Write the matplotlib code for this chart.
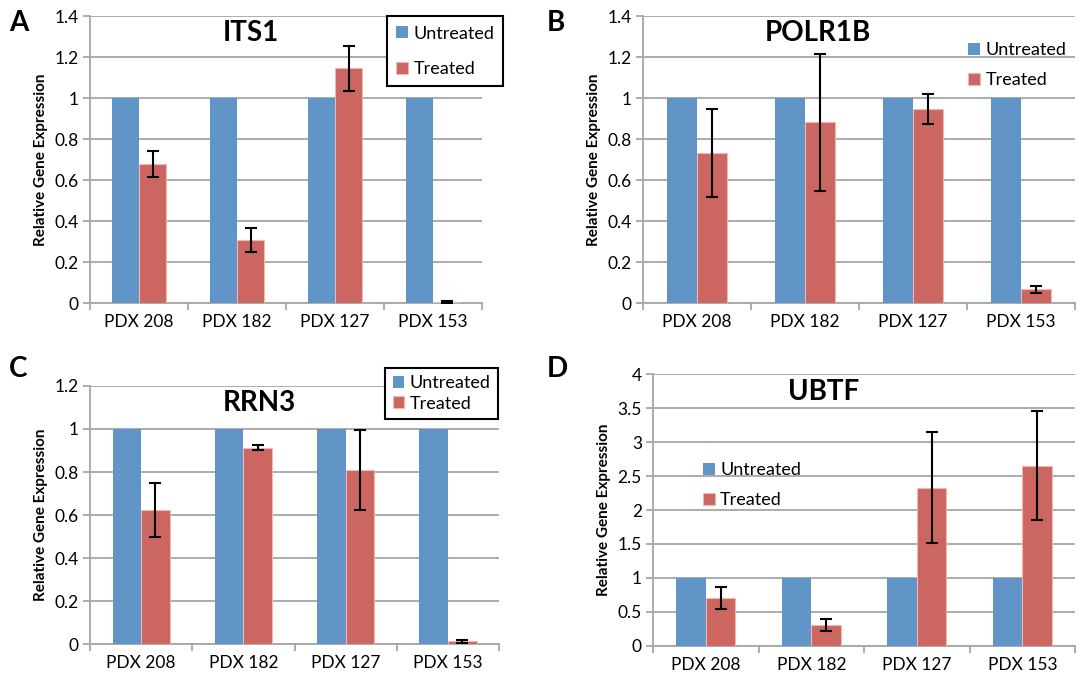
import matplotlib.pyplot as plt
import numpy as np

plt.rcParams['font.family'] = ['Lato', 'DejaVu Sans']

categories = ["PDX 208", "PDX 182", "PDX 127", "PDX 153"]
untreated = [1, 1, 1, 1]

its1 = [0.68, 0.307, 1.145, 0.005]
its1_err = [0.064, 0.058, 0.109, 0.003]

polr1b = [0.734, 0.881, 0.946, 0.067]
polr1b_err = [0.215, 0.336, 0.072, 0.018]

rrn3 = [0.625, 0.913, 0.808, 0.012]
rrn3_err = [0.125, 0.012, 0.186, 0.005]

ubtf = [0.70, 0.31, 2.33, 2.65]
ubtf_err = [0.163, 0.088, 0.82, 0.80]

BLUE = "#6195C8"
RED = "#CC6660"
GRID = "#A6A6A6"

fig = plt.figure(figsize=(10.78, 6.81), dpi=100)

panels = [
    # letter, title, values, errors, ymax, ystep, rect, title xy
    ("A", "ITS1", its1, its1_err, 1.4, 0.2, [0.0835, 0.555, 0.3636, 0.4214], (0.41, 0.94)),
    ("B", "POLR1B", polr1b, polr1b_err, 1.4, 0.2, [0.5965, 0.555, 0.4007, 0.4214], (0.405, 0.94)),
    ("C", "RRN3", rrn3, rrn3_err, 1.2, 0.2, [0.0835, 0.0543, 0.3794, 0.3789], (0.413, 0.934)),
    ("D", "UBTF", ubtf, ubtf_err, 4.0, 0.5, [0.6058, 0.0514, 0.3915, 0.3994], (0.403, 0.934)),
]

letter_pos = {"A": (0.017, 0.966), "B": (0.516, 0.966), "C": (0.017, 0.458), "D": (0.517, 0.458)}

x = np.arange(len(categories))
w = 0.28

for letter, title, vals, errs, ymax, step, rect, txy in panels:
    ax = fig.add_axes(rect)
    ax.bar(x - w / 2, untreated, w, color=BLUE, label="Untreated", zorder=3)
    ax.bar(x + w / 2, vals, w, color=RED, edgecolor="#F0B8B5", linewidth=0.8,
           label="Treated", zorder=3)
    ax.errorbar(x + w / 2, vals, yerr=errs, fmt="none", ecolor="black",
                elinewidth=1.5, capsize=4, capthick=1.5, zorder=4)

    ax.set_xlim(-0.5, 3.5)
    ax.set_ylim(0, ymax)
    ticks = np.arange(0, ymax + step / 2, step)
    ax.set_yticks(ticks)
    ax.set_yticklabels([f"{t:g}" for t in ticks], fontsize=12.5)
    ax.yaxis.grid(True, color=GRID, linewidth=1.3, zorder=0)
    ax.set_axisbelow(True)

    ax.set_xticks(x)
    ax.set_xticklabels(categories, fontsize=12.5)
    ax.tick_params(axis="x", which="major", length=0, pad=8)
    ax.set_xticks(np.arange(-0.5, 4, 1), minor=True)
    ax.tick_params(axis="x", which="minor", length=5, color=GRID, width=1.3)
    ax.tick_params(axis="y", length=5, color=GRID, width=1.3, pad=3)

    for s in ["top", "right"]:
        ax.spines[s].set_visible(False)
    for s in ["left", "bottom"]:
        ax.spines[s].set_color(GRID)
        ax.spines[s].set_linewidth(1.3)

    ax.set_ylabel("Relative Gene Expression", fontsize=11, fontweight="bold", labelpad=5)
    ax.text(txy[0], txy[1], title, transform=ax.transAxes, ha="center", va="center",
            fontsize=20, fontweight="bold")

    lx, ly = letter_pos[letter]
    fig.text(lx, ly, letter, ha="center", va="center", fontsize=20, fontweight="bold")

    common = dict(fontsize=13, handlelength=0.65, handleheight=0.65, handletextpad=0.3)
    if letter == "A":
        lg = ax.legend(loc="upper left", bbox_to_anchor=(0.735, 1.03), frameon=True,
                       fancybox=False, labelspacing=1.1, borderpad=0.5, **common)
    elif letter == "B":
        lg = ax.legend(loc="upper left", bbox_to_anchor=(0.715, 0.965), frameon=False,
                       labelspacing=0.75, **common)
    elif letter == "C":
        lg = ax.legend(loc="upper left", bbox_to_anchor=(0.7, 1.105), frameon=True,
                       fancybox=False, labelspacing=0.25, borderpad=0.4, **common)
    else:
        lg = ax.legend(loc="upper left", bbox_to_anchor=(0.08, 0.735), frameon=False,
                       labelspacing=0.75, **common)
    if lg.get_frame_on():
        lg.get_frame().set_edgecolor("black")
        lg.get_frame().set_linewidth(1.5)
        lg.get_frame().set_alpha(1)

fig.savefig("out.png", dpi=100)
